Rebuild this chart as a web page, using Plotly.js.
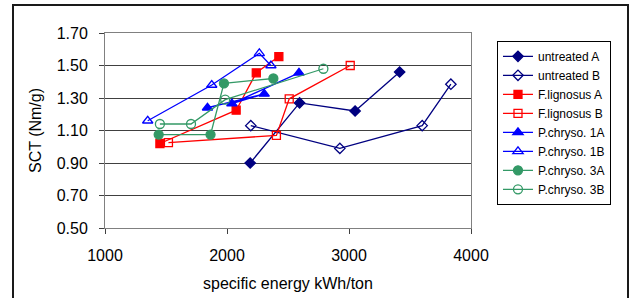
<!DOCTYPE html>
<html>
<head>
<meta charset="utf-8">
<script src="https://cdn.plot.ly/plotly-3.0.1.min.js"></script>
<style>
  html, body { margin: 0; padding: 0; background: #fff; }
  #wrap { position: relative; width: 631px; height: 298px; overflow: hidden; }
  #chart { width: 631px; height: 298px; }
  #frame { position: absolute; left: 12px; top: 4px; width: 613px; height: 310px;
           border: 2px solid #1a1a1a; pointer-events: none; }
</style>
</head>
<body>
<div id="wrap"><div id="chart"></div><div id="frame"></div></div>
<script>
// Data
const seriesNames = ["untreated A", "untreated B", "F.lignosus A", "F.lignosus B",
                     "P.chryso. 1A", "P.chryso. 1B", "P.chryso. 3A", "P.chryso. 3B"];

const untreatedA_x = [2190, 2595, 3050, 3415];
const untreatedA_y = [0.90, 1.27, 1.22, 1.46];

const untreatedB_x = [2195, 2925, 3600, 3835];
const untreatedB_y = [1.13, 0.99, 1.13, 1.385];

const flignosusA_x = [1450, 2075, 2240, 2425];
const flignosusA_y = [1.02, 1.225, 1.455, 1.555];

const flignosusB_x = [1520, 2405, 2510, 3010];
const flignosusB_y = [1.025, 1.07, 1.295, 1.50];

const pchryso1A_x = [1840, 2305, 2040, 2590];
const pchryso1A_y = [1.24, 1.325, 1.265, 1.455];

const pchryso1B_x = [1350, 1875, 2265, 2360];
const pchryso1B_y = [1.16, 1.38, 1.575, 1.50];

const pchryso3A_x = [1440, 1865, 1975, 2380];
const pchryso3A_y = [1.075, 1.075, 1.39, 1.42];

const pchryso3B_x = [1450, 1705, 1985, 2790];
const pchryso3B_y = [1.14, 1.14, 1.29, 1.48];

const xTicks = [1000, 2000, 3000, 4000];
const yTicks = [0.50, 0.70, 0.90, 1.10, 1.30, 1.50, 1.70];

const NAVY = "#000080", RED = "#FF0000", BLUE = "#0000FF", GREEN = "#339966";

function tr(name, xs, ys, color, symbol, size) {
  return {
    type: "scatter", mode: "lines+markers", name: name, x: xs, y: ys,
    line: { color: color, width: 1.3 },
    marker: { symbol: symbol, size: size, color: color,
              line: { color: color, width: 1.3 } },
    cliponaxis: false
  };
}

const data = [
  tr(seriesNames[0], untreatedA_x, untreatedA_y, NAVY, "diamond", 8),
  tr(seriesNames[1], untreatedB_x, untreatedB_y, NAVY, "diamond-open", 8),
  tr(seriesNames[2], flignosusA_x, flignosusA_y, RED, "square", 8),
  tr(seriesNames[3], flignosusB_x, flignosusB_y, RED, "square-open", 8),
  tr(seriesNames[4], pchryso1A_x, pchryso1A_y, BLUE, "triangle-up", 9),
  tr(seriesNames[5], pchryso1B_x, pchryso1B_y, BLUE, "triangle-up-open", 9),
  tr(seriesNames[6], pchryso3A_x, pchryso3A_y, GREEN, "circle", 9),
  tr(seriesNames[7], pchryso3B_x, pchryso3B_y, GREEN, "circle-open", 9)
];

const FONT = "Arial, 'Liberation Sans', sans-serif";

const layout = {
  width: 631, height: 298,
  margin: { l: 105, r: 160, t: 33, b: 70, pad: 0 },
  paper_bgcolor: "#ffffff", plot_bgcolor: "#ffffff",
  font: { family: FONT, color: "#000", size: 16 },
  showlegend: true,
  xaxis: {
    range: [1000, 4000], tickvals: xTicks, ticktext: xTicks.map(String),
    showgrid: false, zeroline: false,
    showline: true, linecolor: "#808080", linewidth: 1, mirror: true,
    ticks: "outside", ticklen: 5, tickcolor: "#404040",
    ticklabelstandoff: 8,
    tickfont: { size: 16, family: FONT },
    title: { text: "specific energy kWh/ton", font: { size: 16, family: FONT }, standoff: 14 },
    automargin: false
  },
  yaxis: {
    range: [0.5, 1.7], tickvals: yTicks, ticktext: yTicks.map(v => v.toFixed(2)),
    showgrid: true, gridcolor: "#404040", gridwidth: 1, zeroline: false,
    showline: true, linecolor: "#808080", linewidth: 1, mirror: true,
    ticks: "outside", ticklen: 5, tickcolor: "#404040",
    ticklabelstandoff: 8,
    tickfont: { size: 16, family: FONT },
    title: { text: "SCT (Nm/g)", font: { size: 16, family: FONT }, standoff: 11 },
    automargin: false
  },
  legend: {
    x: 1.071, y: 0.96, xanchor: "left", yanchor: "top",
    bgcolor: "#ffffff", bordercolor: "#000000", borderwidth: 1,
    font: { size: 12, family: FONT, color: "#000" },
    tracegroupgap: 0, itemwidth: 30
  }
};

Plotly.newPlot("chart", data, layout, { displayModeBar: false, staticPlot: true });
</script>
</body>
</html>
